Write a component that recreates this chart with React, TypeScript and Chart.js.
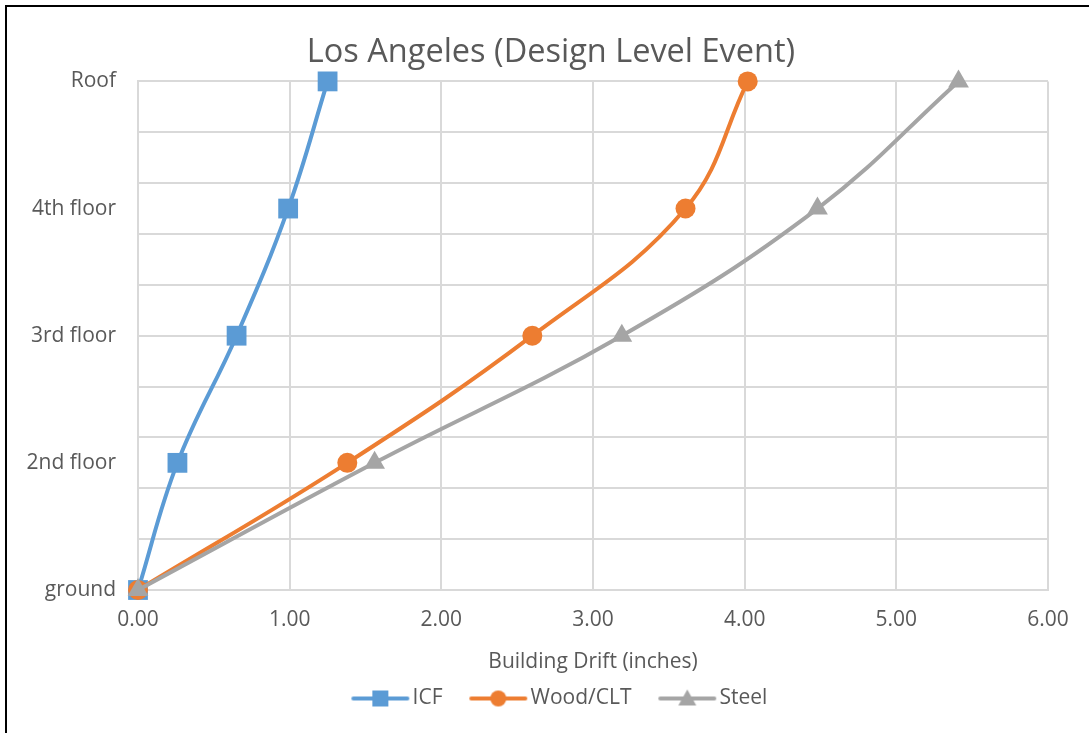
import React, { useEffect, useRef } from 'react';
import { Chart, registerables } from 'chart.js';

Chart.register(...registerables);

// ---- data ----
const levels = ['ground', '2nd floor', '3rd floor', '4th floor', 'Roof'];
const levelIndex = [0, 1, 2, 3, 4];
const icfDrift = [0, 0.26, 0.65, 0.99, 1.25];
const woodDrift = [0, 1.38, 2.6, 3.61, 4.02];
const steelDrift = [0, 1.56, 3.19, 4.48, 5.41];
const seriesNames = ['ICF', 'Wood/CLT', 'Steel'];
const xTickValues = [0, 1, 2, 3, 4, 5, 6];
const yGridValues = [0, 0.4, 0.8, 1.2, 1.6, 2, 2.4, 2.8, 3.2, 3.6, 4];

const TEXT = '#595959';
const GRID = '#d9d9d9';
const FONT = "'Open Sans', sans-serif";
const colors = ['#5B9BD5', '#ED7D31', '#A5A5A5'];
const shapes = ['rect', 'circle', 'triangle'];

// legend icon: canvas 84 wide, centred on the legend box centre;
// line with the marker in its middle
function makeLegendIcon(color: string, shape: string) {
  const c = document.createElement('canvas');
  c.width = 84;
  c.height = 20;
  const g = c.getContext('2d')!;
  const x0 = 27;
  const x1 = 81;
  const cx = (x0 + x1) / 2;
  g.strokeStyle = color;
  g.lineWidth = 4;
  g.lineCap = 'round';
  g.beginPath();
  g.moveTo(x0, 10);
  g.lineTo(x1, 10);
  g.stroke();
  g.fillStyle = color;
  g.beginPath();
  if (shape === 'rect') {
    g.rect(cx - 8, 10 - 8, 16, 16);
  } else if (shape === 'circle') {
    g.arc(cx, 10, 8, 0, Math.PI * 2);
  } else {
    g.moveTo(cx, 1);
    g.lineTo(cx + 9, 17);
    g.lineTo(cx - 9, 17);
    g.closePath();
  }
  g.fill();
  return c;
}

function pts(xs: number[]) {
  return xs.map((x, i) => ({ x, y: levelIndex[i] }));
}

export default function App() {
  const ref = useRef<HTMLCanvasElement | null>(null);

  useEffect(() => {
    if (!ref.current) return;
    const icons = colors.map((c, i) => makeLegendIcon(c, shapes[i]));
    const series = [icfDrift, woodDrift, steelDrift];
    const radii = [14, 10, 12];
    const chart = new Chart(ref.current, {
      type: 'scatter',
      data: {
        datasets: series.map((s, i) => ({
          label: seriesNames[i],
          data: pts(s),
          showLine: true,
          borderColor: colors[i],
          backgroundColor: colors[i],
          borderWidth: 4,
          tension: 0.4,
          pointStyle: shapes[i] as any,
          pointRadius: radii[i],
          pointBorderWidth: 0,
          clip: false as any,
          order: 2 - i,
        })),
      },
      options: {
        responsive: false,
        animation: false,
        layout: { padding: { left: 6, right: 0, top: 0, bottom: 14 } },
        plugins: {
          title: {
            display: true,
            text: 'Los Angeles (Design Level Event)',
            color: TEXT,
            font: { family: FONT, size: 32.5, weight: 'normal' as any },
            padding: { top: 26, bottom: 9.4 },
          },
          legend: {
            position: 'bottom',
            labels: {
              color: TEXT,
              font: { family: FONT, size: 21 },
              usePointStyle: true,
              pointStyleWidth: 67.5,
              padding: 10,
              generateLabels: (ch: any) =>
                ch.data.datasets.map((ds: any, i: number) => ({
                  text: ds.label,
                  fillStyle: colors[i],
                  strokeStyle: colors[i],
                  lineWidth: 0,
                  pointStyle: icons[i],
                  hidden: false,
                  datasetIndex: i,
                  fontColor: TEXT,
                })),
            },
          },
          tooltip: { enabled: false },
        },
        scales: {
          x: {
            type: 'linear',
            min: 0,
            max: 6,
            afterBuildTicks: (axis: any) => {
              axis.ticks = xTickValues.map((v) => ({ value: v }));
            },
            afterFit: (scale: any) => {
              scale.height = 88;
              scale.paddingRight = 41;
            },
            ticks: {
              color: TEXT,
              font: { family: FONT, size: 21 },
              padding: 17,
              callback: (v: any) => Number(v).toFixed(2),
            },
            grid: { color: GRID, lineWidth: 2, drawTicks: false },
            border: { color: GRID, width: 2 },
            title: {
              display: true,
              text: 'Building Drift (inches)',
              color: TEXT,
              font: { family: FONT, size: 21 },
              padding: { top: 0, bottom: 3 },
            },
          },
          y: {
            type: 'linear',
            min: 0,
            max: 4,
            afterBuildTicks: (axis: any) => {
              const vals = [...yGridValues, 1, 3].sort((a, b) => a - b);
              axis.ticks = vals.map((v) => ({ value: v }));
            },
            afterFit: (scale: any) => {
              scale.width = 125;
            },
            ticks: {
              color: TEXT,
              font: { family: FONT, size: 21 },
              padding: 22,
              autoSkip: false,
              callback: (v: any) => {
                const n = Number(v);
                const r = Math.round(n);
                return Math.abs(n - r) < 1e-9 ? levels[r] : '';
              },
            },
            grid: {
              color: (ctx: any) => {
                const v = ctx.tick ? ctx.tick.value : 0;
                return yGridValues.some((g) => Math.abs(g - v) < 1e-9) ? GRID : 'rgba(0,0,0,0)';
              },
              lineWidth: 2,
              drawTicks: false,
            },
            border: { color: GRID, width: 2 },
          },
        },
      },
    });
    return () => chart.destroy();
  }, []);

  return (
    <div
      style={{
        position: 'absolute',
        left: 5,
        top: 5,
        width: 1084,
        height: 728,
        boxSizing: 'border-box',
        borderLeft: '2px solid #000',
        borderTop: '2px solid #000',
        background: '#fff',
      }}
    >
      <canvas ref={ref} width={1082} height={726} style={{ display: 'block' }} />
    </div>
  );
}
